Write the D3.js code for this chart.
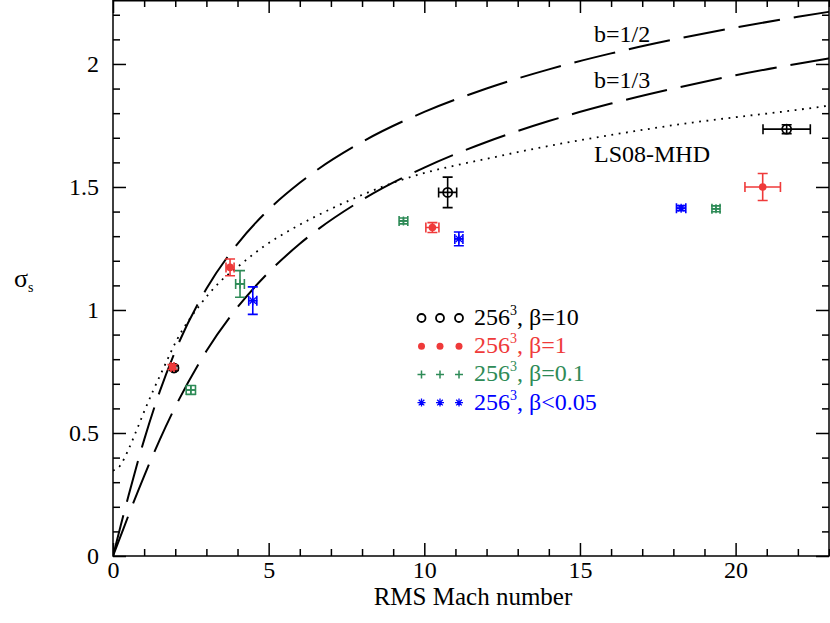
<!DOCTYPE html>
<html>
<head>
<meta charset="utf-8">
<script src="https://cdn.jsdelivr.net/npm/d3@7"></script>
<style>
  body { margin: 0; background: #fff; }
  text { font-family: "Liberation Serif", "Times New Roman", serif; }
</style>
</head>
<body>
<svg id="chart" width="830" height="623"></svg>
<script>
// ---- data ----
// theory curves, [Mach, sigma_s]
var curveHalf = [[0,0],[0.25,0.125],[0.5,0.246],[1,0.472],[1.5,0.668],[2,0.833],[3,1.086],[4,1.269],
  [5,1.408],[6,1.517],[8,1.683],[10,1.805],[12,1.900],[14,1.978],[16,2.043],[18,2.099],[20,2.148],[22,2.192],[23,2.212]];
var curveThird = [[0,0],[0.25,0.083],[0.5,0.166],[1,0.325],[1.5,0.472],[2,0.606],[3,0.833],[4,1.011],
  [5,1.153],[6,1.269],[8,1.447],[10,1.579],[12,1.683],[14,1.768],[16,1.839],[18,1.900],[20,1.954],[22,2.001],[23,2.023]];
var curveLS08 = [[0,0.347],[0.22,0.366],[0.49,0.431],[0.76,0.512],[1.03,0.596],[1.30,0.675],[1.62,0.763],
  [2.05,0.878],[2.79,1.02],[3.44,1.115],[4.08,1.183],[4.83,1.257],[5.79,1.332],[6.97,1.409],[9.11,1.522],
  [12.5,1.628],[17.57,1.743],[22.89,1.829],[23,1.831]];

// simulation points: [Mach, sigma_s, errMach, errSigma]
var beta10  = [[1.96,0.764,0.05,0.01],[10.75,1.478,0.29,0.062],[21.64,1.735,0.76,0.018]];
var beta1   = [[1.91,0.768,0.05,0.01],[3.76,1.173,0.13,0.034],[10.26,1.335,0.21,0.02],[20.87,1.50,0.57,0.055]];
var beta01  = [[2.50,0.675,0.15,0.018],[4.08,1.106,0.14,0.054],[9.33,1.362,0.14,0.012],[19.37,1.411,0.13,0.012]];
var beta005 = [[4.49,1.038,0.13,0.056],[11.11,1.289,0.13,0.028],[18.25,1.414,0.15,0.01]];

var xMajor = [0,5,10,15,20];
var yMajor = [0,0.5,1,1.5,2];
var legendLabels = ["β=10","β=1","β=0.1","β<0.05"];

// ---- layout ----
var svg = d3.select("#chart");
var L = 113, R = 829, T = 0, B = 556;
var x = d3.scaleLinear().domain([0,23]).range([L,R]);
var y = d3.scaleLinear().domain([0,2.26]).range([B,T]);
var black = "#000", red = "#ef3a3a", green = "#2e8b57", blue = "#0000ff";

svg.append("rect").attr("width",830).attr("height",623).attr("fill","#fff");

svg.append("clipPath").attr("id","plotclip").append("rect")
   .attr("x",L).attr("y",T).attr("width",R-L).attr("height",B-T);

var xMinor = d3.range(0,24).filter(function(d){ return d%5 !== 0; });
var yMinor = d3.range(0,23).map(function(d){ return d/10; }).filter(function(d){ return Math.round(d*10)%5 !== 0; });

function axisGroup(axis, tx, ty){
  var g = svg.append("g").attr("transform","translate("+tx+","+ty+")").call(axis);
  g.select(".domain").remove();
  g.selectAll("line").attr("stroke","#000").attr("stroke-width",1.5);
  return g;
}

// bottom / top
var gx = axisGroup(d3.axisBottom(x).tickValues(xMajor).tickSize(-13).tickPadding(5).tickFormat(d3.format("d")), 0, B);
gx.selectAll("text").attr("font-size",24).attr("fill","#000").attr("font-family","Liberation Serif");
axisGroup(d3.axisBottom(x).tickValues(xMinor).tickSize(-7).tickFormat(""), 0, B);
axisGroup(d3.axisTop(x).tickValues(xMajor).tickSize(-13).tickFormat(""), 0, T);
axisGroup(d3.axisTop(x).tickValues(xMinor).tickSize(-7).tickFormat(""), 0, T);

// left / right
var gy = axisGroup(d3.axisLeft(y).tickValues(yMajor).tickSize(-13).tickPadding(14).tickFormat(d3.format("")), L, 0);
gy.selectAll("text").attr("font-size",24).attr("fill","#000").attr("font-family","Liberation Serif");
axisGroup(d3.axisLeft(y).tickValues(yMinor).tickSize(-7).tickFormat(""), L, 0);
axisGroup(d3.axisRight(y).tickValues(yMajor).tickSize(-13).tickFormat(""), R, 0);
axisGroup(d3.axisRight(y).tickValues(yMinor).tickSize(-7).tickFormat(""), R, 0);

// frame
svg.append("rect").attr("x",L).attr("y",T+0.75).attr("width",R-L).attr("height",B-T-0.75)
   .attr("fill","none").attr("stroke","#000").attr("stroke-width",1.5);

// curves
var line = d3.line().x(function(d){ return x(d[0]); }).y(function(d){ return y(d[1]); }).curve(d3.curveMonotoneX);
var plot = svg.append("g").attr("clip-path","url(#plotclip)");
plot.append("path").datum(curveHalf).attr("d",line).attr("fill","none")
    .attr("stroke","#000").attr("stroke-width",2).attr("stroke-dasharray","42,14");
plot.append("path").datum(curveThird).attr("d",line).attr("fill","none")
    .attr("stroke","#000").attr("stroke-width",2).attr("stroke-dasharray","42,14");
plot.append("path").datum(curveLS08).attr("d",line).attr("fill","none")
    .attr("stroke","#000").attr("stroke-width",1.8).attr("stroke-dasharray","1.8,5.6");

// markers
function drawMarker(g, kind, cx, cy, col, s){
  if (kind === "circle") {
    g.append("circle").attr("cx",cx).attr("cy",cy).attr("r",s).attr("fill","none").attr("stroke",col).attr("stroke-width",1.8);
  } else if (kind === "dot") {
    g.append("circle").attr("cx",cx).attr("cy",cy).attr("r",s).attr("fill",col);
  } else if (kind === "plus") {
    g.append("path").attr("d","M"+(cx-s)+","+cy+"H"+(cx+s)+"M"+cx+","+(cy-s)+"V"+(cy+s))
     .attr("stroke",col).attr("stroke-width",1.5);
  } else {
    var p = "M"+(cx-s)+","+cy+"H"+(cx+s)+"M"+cx+","+(cy-s)+"V"+(cy+s);
    var k = s*0.7;
    p += "M"+(cx-k)+","+(cy-k)+"L"+(cx+k)+","+(cy+k)+"M"+(cx-k)+","+(cy+k)+"L"+(cx+k)+","+(cy-k);
    g.append("path").attr("d",p).attr("stroke",col).attr("stroke-width",1.3);
  }
}

function drawSeries(data, kind, col, s){
  var g = svg.append("g");
  data.forEach(function(d){
    var cx = x(d[0]), cy = y(d[1]);
    var x0 = x(d[0]-d[2]), x1 = x(d[0]+d[2]);
    var y0 = y(d[1]-d[3]), y1 = y(d[1]+d[3]);
    var c = 5;
    var p = "M"+x0+","+cy+"H"+x1+"M"+cx+","+y0+"V"+y1+
            "M"+(cx-c)+","+y0+"H"+(cx+c)+"M"+(cx-c)+","+y1+"H"+(cx+c)+
            "M"+x0+","+(cy-c)+"V"+(cy+c)+"M"+x1+","+(cy-c)+"V"+(cy+c);
    g.append("path").attr("d",p).attr("stroke",col).attr("stroke-width",1.6).attr("fill","none");
    drawMarker(g, kind, cx, cy, col, s);
  });
}
drawSeries(beta10, "circle", black, 4.5);
drawSeries(beta1, "dot", red, 3.8);
drawSeries(beta01, "plus", green, 4.5);
drawSeries(beta005, "star", blue, 4.5);

// curve labels
svg.append("text").attr("x",594).attr("y",42).attr("font-size",24).text("b=1/2");
svg.append("text").attr("x",594).attr("y",88).attr("font-size",24).text("b=1/3");
svg.append("text").attr("x",594).attr("y",162).attr("font-size",24).text("LS08-MHD");

// legend
var kinds = ["circle","dot","plus","star"], cols = [black, red, green, blue], sizes = [4,3.5,4,4];
kinds.forEach(function(k, i){
  var by = 325 + i*28.2;
  [421.5, 440, 459].forEach(function(mx){
    drawMarker(svg, k, mx, by-7, cols[i], sizes[i]);
  });
  var t = svg.append("text").attr("x",474).attr("y",by).attr("font-size",24).attr("fill",cols[i]);
  t.append("tspan").text("256");
  t.append("tspan").attr("dy",-10).attr("font-size",14).text("3");
  t.append("tspan").attr("dy",10).text(", " + legendLabels[i]);
});

// axis titles
svg.append("text").attr("x",473).attr("y",605).attr("text-anchor","middle").attr("font-size",25).text("RMS Mach number");
var yl = svg.append("text").attr("x",14).attr("y",287).attr("font-size",26);
yl.append("tspan").text("σ");
yl.append("tspan").attr("dy",5).attr("font-size",14).text("s");
</script>
</body>
</html>
